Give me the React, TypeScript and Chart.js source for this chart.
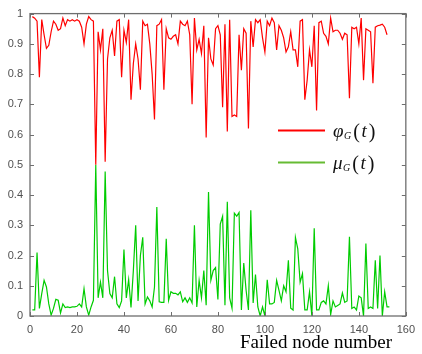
import React, { useEffect, useRef } from "react";
import { Chart, registerables } from "chart.js";

Chart.register(...registerables);

const X_LABEL = "Failed node number";
const SERIES_NAMES = ["φ", "μ"];
const SUBSCRIPT = "G";
const ARG = "t";

const phiG = [
  0.99, 0.985, 0.975, 0.79, 0.98, 0.93, 0.885, 0.895, 0.94, 0.975,
  0.965, 0.945, 0.95, 0.985, 0.96, 0.98, 0.975, 0.98, 0.975, 0.98,
  0.975, 0.955, 0.9, 0.965, 0.99, 0.98, 0.975, 0.5, 0.94, 0.88,
  0.95, 0.51, 0.85, 0.92, 0.945, 0.86, 0.975, 0.98, 0.79, 0.945,
  0.905, 0.98, 0.715, 0.835, 0.9, 0.85, 0.748, 0.975, 0.96, 0.965,
  0.9, 0.8, 0.65, 0.96, 0.965, 0.98, 0.748, 0.95, 0.92, 0.915,
  0.925, 0.93, 0.9, 0.975, 0.965, 0.96, 0.975, 0.93, 0.7, 0.985,
  0.88, 0.915, 0.868, 0.96, 0.59, 0.92, 0.85, 0.83, 0.95, 0.96,
  0.93, 0.69, 0.965, 0.61, 0.98, 0.66, 0.665, 0.66, 0.93, 0.813,
  0.95, 0.935, 0.62, 0.975, 0.89, 0.98, 0.97, 0.98, 0.92, 0.873,
  0.975, 0.96, 0.985, 0.97, 0.88, 0.96, 0.945, 0.92, 0.873, 0.89,
  0.94, 0.88, 0.88, 0.824, 0.975, 0.98, 0.715, 0.78, 0.88, 0.824,
  0.96, 0.68, 0.97, 0.975, 0.935, 0.925, 0.9, 0.985, 0.94, 0.945,
  0.945, 0.935, 0.915, 0.935, 0.93, 0.72, 0.955, 0.95, 0.955, 0.9,
  0.985, 0.78, 0.95, 0.945, 0.94, 0.77, 0.955, 0.96, 0.962, 0.965,
  0.955, 0.93,
];

const muG = [
  0.02, 0.02, 0.21, 0.025, 0.074, 0.118, 0.096, 0.04, 0.003, 0.025,
  0.055, 0.052, 0.01, 0.04, 0.028, 0.03, 0.028, 0.03, 0.03, 0.032,
  0.04, 0.03, 0.09, 0.03, 0.003, 0.03, 0.052, 0.5, 0.06, 0.112,
  0.06, 0.478, 0.15, 0.074, 0.06, 0.13, 0.04, 0.028, 0.05, 0.22,
  0.06, 0.12, 0.028, 0.15, 0.3, 0.05, 0.2, 0.26, 0.04, 0.063,
  0.05, 0.03, 0.096, 0.36, 0.047, 0.045, 0.045, 0.255, 0.052, 0.08,
  0.075, 0.075, 0.07, 0.08, 0.047, 0.06, 0.045, 0.06, 0.043, 0.3,
  0.03, 0.118, 0.06, 0.15, 0.036, 0.41, 0.118, 0.15, 0.16, 0.055,
  0.304, 0.33, 0.036, 0.378, 0.06, 0.026, 0.34, 0.33, 0.342, 0.02,
  0.175, 0.085, 0.02, 0.35, 0.043, 0.137, 0.03, 0.0, 0.03, 0.0,
  0.12, 0.04, 0.04, 0.045, 0.118, 0.085, 0.05, 0.1, 0.08, 0.184,
  0.026, 0.02, 0.26, 0.222, 0.112, 0.14, 0.02, 0.02, 0.08, 0.0,
  0.29, 0.02, 0.02, 0.045, 0.05, 0.04, 0.1, 0.005, 0.05, 0.03,
  0.035, 0.04, 0.076, 0.045, 0.05, 0.262, 0.025, 0.03, 0.02, 0.066,
  0.06, 0.0, 0.24, 0.025, 0.03, 0.025, 0.184, 0.025, 0.2, 0.0,
  0.08, 0.03, 0.03,
];

const X_MIN = 0;
const X_MAX = 160;
const X_STEP = 20;
const Y_MIN = 0;
const Y_MAX = 1;
const Y_STEP = 0.1;

const RED = "#ff0000";
const GREEN = "#00cc00";
const LEGEND_GREEN = "#66bb33";
const AXIS = "#6e6e6e";

const framePlugin = {
  id: "frameTicks",
  afterDraw(chart: any) {
    const { ctx, chartArea } = chart;
    const { left, right, top, bottom } = chartArea;
    const xs = chart.scales.x;
    const ys = chart.scales.y;
    ctx.save();
    ctx.strokeStyle = AXIS;
    ctx.lineWidth = 1.3;
    ctx.strokeRect(left, top, right - left, bottom - top);
    ctx.lineWidth = 1;
    ctx.beginPath();
    const tl = 4;
    for (let v = X_MIN; v <= X_MAX; v += X_STEP) {
      const px = Math.round(xs.getPixelForValue(v)) + 0.5;
      ctx.moveTo(px, bottom);
      ctx.lineTo(px, bottom - tl);
      ctx.moveTo(px, top);
      ctx.lineTo(px, top + tl);
    }
    for (let i = 0; i <= Math.round((Y_MAX - Y_MIN) / Y_STEP); i++) {
      const v = Y_MIN + i * Y_STEP;
      const py = Math.round(ys.getPixelForValue(v)) + 0.5;
      ctx.moveTo(left, py);
      ctx.lineTo(left + tl, py);
      ctx.moveTo(right, py);
      ctx.lineTo(right - tl, py);
    }
    ctx.stroke();

    // x-axis title
    ctx.fillStyle = "#000";
    ctx.font = '19px "Liberation Serif", "Times New Roman", serif';
    ctx.textAlign = "left";
    ctx.textBaseline = "alphabetic";
    ctx.fillText(X_LABEL, left + 210, bottom + 32);

    // legend
    const entries = [
      { name: SERIES_NAMES[0], color: RED },
      { name: SERIES_NAMES[1], color: LEGEND_GREEN },
    ];
    const lx0 = left + 248;
    const lx1 = left + 295;
    entries.forEach((e, i) => {
      const ly = top + 117 + i * 32;
      ctx.strokeStyle = e.color;
      ctx.lineWidth = 2;
      ctx.beginPath();
      ctx.moveTo(lx0, ly);
      ctx.lineTo(lx1, ly);
      ctx.stroke();
      let tx = lx1 + 8;
      const base = ly + 6;
      ctx.fillStyle = "#111";
      ctx.font = 'italic 19px "Liberation Serif", "DejaVu Serif", serif';
      ctx.fillText(e.name, tx, base);
      tx += ctx.measureText(e.name).width + 0.5;
      ctx.font = 'italic 10px "Liberation Serif", "DejaVu Serif", serif';
      ctx.fillText(SUBSCRIPT, tx, base + 2);
      tx += ctx.measureText(SUBSCRIPT).width + 2;
      ctx.font = '20px "Liberation Serif", "DejaVu Serif", serif';
      ctx.fillText("(", tx, base + 1);
      tx += ctx.measureText("(").width + 1.5;
      ctx.font = 'italic 19px "Liberation Serif", "DejaVu Serif", serif';
      ctx.fillText(ARG, tx, base);
      tx += ctx.measureText(ARG).width + 2;
      ctx.font = '20px "Liberation Serif", "DejaVu Serif", serif';
      ctx.fillText(")", tx, base + 1);
    });
    ctx.restore();
  },
};

export default function App() {
  const canvasRef = useRef<HTMLCanvasElement | null>(null);

  useEffect(() => {
    const canvas = canvasRef.current;
    if (!canvas) return;
    const toPoints = (arr: number[]) => arr.map((v, i) => ({ x: i + 1, y: v }));
    const chart = new Chart(canvas, {
      type: "line",
      data: {
        datasets: [
          {
            label: "phi",
            data: toPoints(phiG),
            borderColor: RED,
            borderWidth: 1.2,
            pointRadius: 0,
            tension: 0,
            fill: false,
          },
          {
            label: "mu",
            data: toPoints(muG),
            borderColor: GREEN,
            borderWidth: 1.2,
            pointRadius: 0,
            tension: 0,
            fill: false,
          },
        ],
      },
      options: {
        animation: false,
        responsive: false,
        maintainAspectRatio: false,
        events: [],
        layout: { padding: { left: 0, top: 11, right: 8, bottom: 0 } },
        plugins: {
          legend: { display: false },
          tooltip: { enabled: false },
          title: { display: false },
        },
        scales: {
          x: {
            type: "linear",
            min: X_MIN,
            max: X_MAX,
            grid: { display: false, drawTicks: false, tickLength: 0 },
            border: { display: false },
            ticks: {
              stepSize: X_STEP,
              padding: 7,
              color: "#505050",
              font: { family: '"Liberation Sans", Arial, sans-serif', size: 11 },
              maxRotation: 0,
            },
            afterFit: (s: any) => {
              s.height = 38;
            },
          },
          y: {
            type: "linear",
            min: Y_MIN,
            max: Y_MAX,
            grid: { display: false, drawTicks: false, tickLength: 0 },
            border: { display: false },
            ticks: {
              stepSize: Y_STEP,
              padding: 7,
              color: "#505050",
              font: { family: '"Liberation Sans", Arial, sans-serif', size: 11 },
              callback: (v: any) => String(Number(Number(v).toFixed(1))),
            },
            afterFit: (s: any) => {
              s.width = 30;
            },
          },
        },
      },
      plugins: [framePlugin],
    });
    return () => chart.destroy();
  }, []);

  return (
    <div style={{ position: "fixed", left: 0, top: 0, width: 422, height: 354, background: "#fff" }}>
      <canvas ref={canvasRef} width={422} height={354} style={{ display: "block" }} />
    </div>
  );
}
